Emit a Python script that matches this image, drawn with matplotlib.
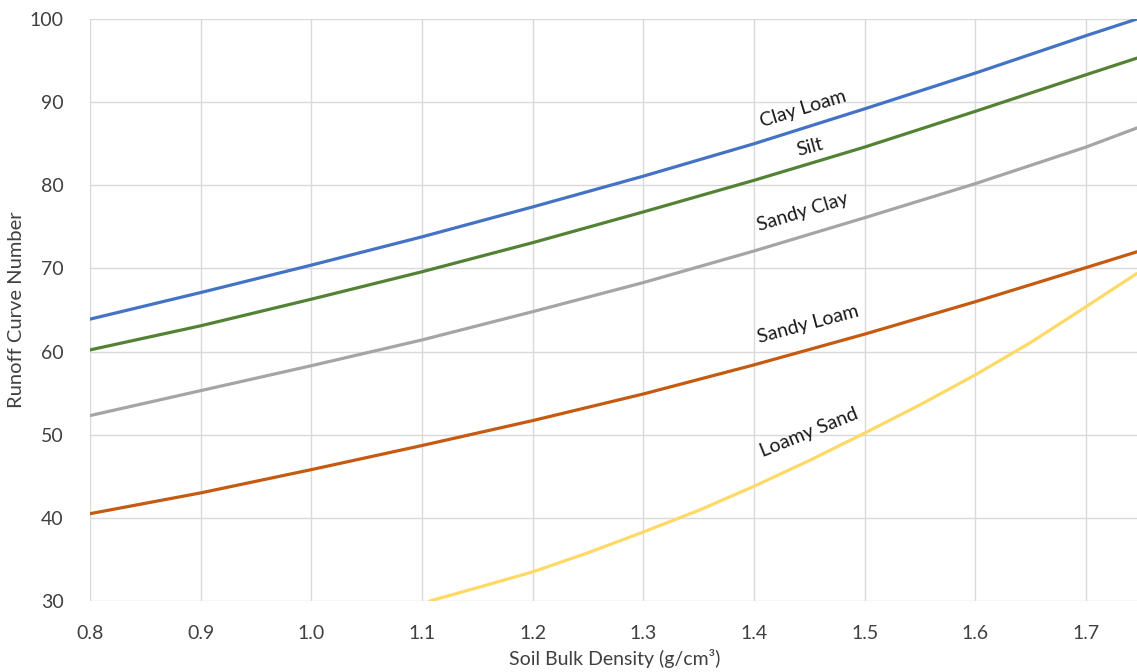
import matplotlib
matplotlib.use("Agg")
import matplotlib.pyplot as plt

plt.rcParams['font.family'] = ['Lato', 'DejaVu Sans']

# Soil bulk density (g/cm3)
density = [0.8, 0.9, 1.0, 1.1, 1.2, 1.3, 1.4, 1.5, 1.6, 1.7, 1.746]

clay_loam = [63.9, 67.1, 70.4, 73.8, 77.4, 81.1, 85.0, 89.2, 93.5, 98.0, 100.0]
silt = [60.2, 63.1, 66.3, 69.6, 73.1, 76.8, 80.6, 84.6, 88.9, 93.3, 95.3]
sandy_clay = [52.3, 55.3, 58.3, 61.4, 64.8, 68.3, 72.1, 76.1, 80.2, 84.6, 86.9]
sandy_loam = [40.5, 43.0, 45.8, 48.7, 51.7, 54.9, 58.4, 62.1, 66.0, 70.1, 72.0]

loamy_density = [1.107, 1.15, 1.2, 1.25, 1.3, 1.35, 1.4, 1.45, 1.5,
                 1.55, 1.6, 1.65, 1.7, 1.746]
loamy_sand = [30.0, 31.6, 33.5, 35.8, 38.3, 40.9, 43.8, 46.9, 50.2,
              53.6, 57.2, 61.1, 65.4, 69.4]

series = [
    ("Clay Loam", density, clay_loam, "#4472C4", (1.444, 89.2), 17),
    ("Silt", density, silt, "#548235", (1.450, 84.6), 15),
    ("Sandy Clay", density, sandy_clay, "#A5A5A5", (1.444, 76.8), 17),
    ("Sandy Loam", density, sandy_loam, "#C55A11", (1.449, 63.3), 15),
    ("Loamy Sand", loamy_density, loamy_sand, "#FFD966", (1.450, 50.3), 22),
]

x_ticks = [0.8, 0.9, 1.0, 1.1, 1.2, 1.3, 1.4, 1.5, 1.6, 1.7]
x_tick_labels = ["0.8", "0.9", "1.0", "1.1", "1.2", "1.3", "1.4", "1.5", "1.6", "1.7"]
y_ticks = [30, 40, 50, 60, 70, 80, 90, 100]

fig = plt.figure(figsize=(11.37, 6.72), dpi=100)
ax = fig.add_axes([0.0792, 0.1057, 0.9208, 0.866])

for name, xs, ys, color, (lx, ly), rot in series:
    ax.plot(xs, ys, color=color, lw=2.3, solid_capstyle="round",
            solid_joinstyle="round", zorder=3)
    ax.text(lx, ly, name, rotation=rot, ha="center", va="center",
            fontsize=14, color="#1a1a1a", zorder=4)

ax.set_xlim(0.8, 1.746)
ax.set_ylim(30, 100)
ax.set_xticks(x_ticks)
ax.set_xticklabels(x_tick_labels)
ax.set_yticks(y_ticks)

ax.grid(True, color="#d9d9d9", lw=1.0, zorder=0)
ax.set_axisbelow(True)
for s in ax.spines.values():
    s.set_visible(False)
ax.tick_params(axis="both", length=0, labelsize=14, labelcolor="#404040")
ax.tick_params(axis="x", pad=17)
ax.tick_params(axis="y", pad=19)

ax.set_xlabel("Soil Bulk Density (g/cm³)", fontsize=14, color="#404040")
ax.xaxis.set_label_coords(0.501, -0.082)
ax.set_ylabel("Runoff Curve Number", fontsize=14.5, color="#404040", labelpad=3)

fig.savefig("out.png", dpi=100)
